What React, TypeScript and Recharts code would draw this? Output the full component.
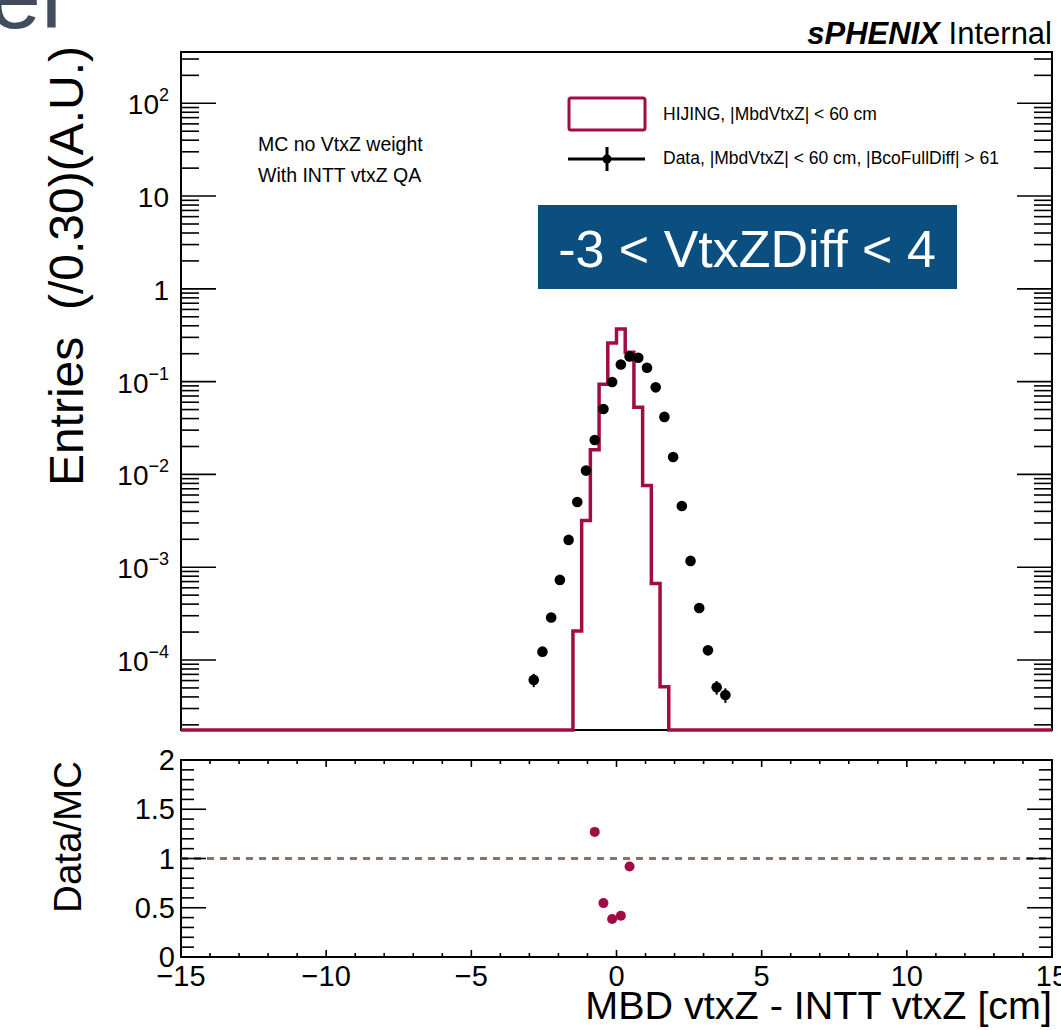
import React from 'react';
import { ComposedChart, Line, Scatter, XAxis, YAxis, ReferenceArea, ReferenceLine, ErrorBar } from 'recharts';

const FONT = '"Liberation Sans", Arial, Helvetica, sans-serif';
const MC_COLOR = '#a20c46';
const BOX_BLUE = '#0b4f80';
const RATIO_LINE_COLOR = '#8c7164';

// ---- axes ----
const X_MIN = -15;
const X_MAX = 15;
const X_TICKS = [-15, -14, -13, -12, -11, -10, -9, -8, -7, -6, -5, -4, -3, -2, -1, 0, 1, 2, 3, 4, 5, 6, 7, 8, 9, 10, 11, 12, 13, 14, 15];
const X_MAJOR_TICKS = [-15, -10, -5, 0, 5, 10, 15];
const X_TICK_LABELS = ['\u221215', '\u221210', '\u22125', '0', '5', '10', '15'];
const Y_MIN = 1.76e-5;
const Y_MAX = 357;
const Y_DECADES = [-5, -4, -3, -2, -1, 0, 1, 2];
const Y_MAJOR_EXPONENTS = [-4, -3, -2, -1, 0, 1, 2];
const RATIO_MIN = 0;
const RATIO_MAX = 2;
const RATIO_MAJOR_TICKS = [0, 0.5, 1, 1.5, 2];
const RATIO_TICK_LABELS = ['0', '0.5', '1', '1.5', '2'];

// ---- MC histogram (HIJING), bin width 0.30 ----
const MC_BIN_LOW_EDGES = [-1.5, -1.2, -0.9, -0.6, -0.3, 0.0, 0.3, 0.6, 0.9, 1.2, 1.5];
const MC_VALUES = [2.05e-4, 3.18e-3, 1.85e-2, 9.4e-2, 2.61e-1, 3.7e-1, 2.07e-1, 5.28e-2, 7.6e-3, 6.66e-4, 5.15e-5];
const MC_LAST_EDGE = 1.8;

// ---- Data points ----
const DATA_CENTERS = [-2.85, -2.55, -2.25, -1.95, -1.65, -1.35, -1.05, -0.75, -0.45, -0.15, 0.15, 0.45, 0.75, 1.05, 1.35, 1.65, 1.95, 2.25, 2.55, 2.85, 3.15, 3.45, 3.75];
const DATA_VALUES = [6.1e-5, 1.23e-4, 2.87e-4, 7.3e-4, 1.97e-3, 5.05e-3, 1.1e-2, 2.35e-2, 5.08e-2, 9.9e-2, 1.53e-1, 1.87e-1, 1.81e-1, 1.41e-1, 8.68e-2, 4.17e-2, 1.54e-2, 4.56e-3, 1.17e-3, 3.64e-4, 1.27e-4, 5.08e-5, 4.2e-5];
const DATA_ERRORS = [1.0e-5, 1.4e-5, 2.1e-5, 3.4e-5, 5.6e-5, 9e-5, 1.3e-4, 1.9e-4, 2.7e-4, 3.8e-4, 4.7e-4, 5.2e-4, 5.1e-4, 4.5e-4, 3.5e-4, 2.4e-4, 1.5e-4, 8e-5, 4.1e-5, 2.3e-5, 1.35e-5, 8.5e-6, 7.5e-6];

// ---- Ratio Data/MC ----
const RATIO_CENTERS = [-0.75, -0.45, -0.15, 0.15, 0.45];
const RATIO_VALUES = [1.27, 0.547, 0.385, 0.419, 0.919];

// ---- derived tables ----
const mcStepData = [
  { x: X_MIN, mc: Y_MIN },
  ...MC_BIN_LOW_EDGES.map((e, i) => ({ x: e, mc: MC_VALUES[i] })),
  { x: MC_LAST_EDGE, mc: Y_MIN },
  { x: X_MAX, mc: Y_MIN },
];
const dataPoints = DATA_CENTERS.map((c, i) => ({ x: c, y: DATA_VALUES[i], err: DATA_ERRORS[i] }));
const ratioPoints = RATIO_CENTERS.map((c, i) => ({ x: c, r: RATIO_VALUES[i] }));

const Y_TICKS: number[] = [];
Y_DECADES.forEach((d) => {
  for (let k = 1; k <= 9; k++) {
    const v = k * Math.pow(10, d);
    if (v >= Y_MIN && v <= Y_MAX) Y_TICKS.push(v);
  }
});
const RATIO_TICKS: number[] = [];
for (let i = 0; i <= 20; i++) RATIO_TICKS.push(Math.round(i * 10) / 100);

// ---- geometry ----
const W = 1061;
const LEFT = 181;
const RIGHT_MARGIN = 9;
const PLOT_W = W - LEFT - RIGHT_MARGIN; // 871
const TOP_H = 740;
const TOP_MARGIN = 52;
const TOP_PLOT_H = 678;
const RATIO_SVG_TOP = 740;
const RATIO_H = 290;
const RATIO_MARGIN_TOP = 20;
const RATIO_PLOT_H = 197;

const TICK_W = 1.6;

function TopYTick(props: any) {
  const { x, y, payload } = props;
  const v = payload.value as number;
  const e = Math.round(Math.log10(v));
  const major = Math.abs(v / Math.pow(10, e) - 1) < 1e-6 && Y_MAJOR_EXPONENTS.includes(e);
  const len = major ? 35 : 18;
  let label: React.ReactNode = null;
  if (major) {
    if (e === 0 || e === 1) {
      label = (
        <text x={x - 12} y={y + 11} textAnchor="end" fontSize={28} fontFamily={FONT} fill="#000">
          {e === 0 ? '1' : '10'}
        </text>
      );
    } else {
      label = (
        <text x={x - 12} y={y + 11} textAnchor="end" fontSize={28} fontFamily={FONT} fill="#000">
          <tspan>10</tspan>
          <tspan dy={-13} fontSize={18}>{e < 0 ? '\u2212' + String(-e) : String(e)}</tspan>
        </text>
      );
    }
  }
  return (
    <g>
      <line x1={x} x2={x + len} y1={y} y2={y} stroke="#000" strokeWidth={TICK_W} />
      <line x1={x + PLOT_W} x2={x + PLOT_W - len} y1={y} y2={y} stroke="#000" strokeWidth={TICK_W} />
      {label}
    </g>
  );
}

function TopXTick(props: any) {
  const { x, y, payload } = props;
  const v = payload.value as number;
  const major = X_MAJOR_TICKS.includes(v);
  const len = major ? 15 : 7;
  return (
    <g>
      <line x1={x} x2={x} y1={y} y2={y - len} stroke="#000" strokeWidth={TICK_W} />
      <line x1={x} x2={x} y1={y - TOP_PLOT_H} y2={y - TOP_PLOT_H + len} stroke="#000" strokeWidth={TICK_W} />
    </g>
  );
}

function RatioYTick(props: any) {
  const { x, y, payload } = props;
  const v = payload.value as number;
  const idx = RATIO_MAJOR_TICKS.findIndex((t) => Math.abs(t - v) < 1e-6);
  const major = idx >= 0;
  const len = major ? 25 : 13;
  return (
    <g>
      <line x1={x} x2={x + len} y1={y} y2={y} stroke="#000" strokeWidth={TICK_W} />
      <line x1={x + PLOT_W} x2={x + PLOT_W - len} y1={y} y2={y} stroke="#000" strokeWidth={TICK_W} />
      {major && (
        <text x={x - 6} y={y + 10} textAnchor="end" fontSize={29} fontFamily={FONT} fill="#000">
          {RATIO_TICK_LABELS[idx]}
        </text>
      )}
    </g>
  );
}

function RatioXTick(props: any) {
  const { x, y, payload } = props;
  const v = payload.value as number;
  const idx = X_MAJOR_TICKS.indexOf(v);
  const major = idx >= 0;
  const len = major ? 7 : 4;
  return (
    <g>
      <line x1={x} x2={x} y1={y} y2={y - len} stroke="#000" strokeWidth={TICK_W} />
      <line x1={x} x2={x} y1={y - RATIO_PLOT_H} y2={y - RATIO_PLOT_H + len} stroke="#000" strokeWidth={TICK_W} />
      {major && (
        <text x={x} y={y + 29} textAnchor="middle" fontSize={29} fontFamily={FONT} fill="#000">
          {X_TICK_LABELS[idx]}
        </text>
      )}
    </g>
  );
}

const DataDot = (p: any) => <circle cx={p.cx} cy={p.cy} r={5.3} fill="#000" />;
const RatioDot = (p: any) => <circle cx={p.cx} cy={p.cy} r={5} fill={MC_COLOR} />;

export default function App() {
  return (
    <div style={{ position: 'absolute', left: 0, top: 0, width: W, height: 1030, overflow: 'hidden', background: '#fff' }}>
      <div style={{ position: 'absolute', left: 0, top: 0 }}>
        <ComposedChart width={W} height={TOP_H} data={mcStepData} margin={{ top: TOP_MARGIN, right: RIGHT_MARGIN, bottom: TOP_H - TOP_MARGIN - TOP_PLOT_H, left: 0 }}>
          <XAxis type="number" dataKey="x" domain={[X_MIN, X_MAX]} ticks={X_TICKS} interval={0} tick={TopXTick} tickLine={false} axisLine={false} tickSize={0} tickMargin={0} height={0} />
          <YAxis type="number" scale="log" domain={[Y_MIN, Y_MAX]} ticks={Y_TICKS} interval={0} tick={TopYTick} tickLine={false} axisLine={false} tickSize={0} tickMargin={0} width={LEFT} />
          <ReferenceArea x1={X_MIN} x2={X_MAX} y1={Y_MIN} y2={Y_MAX} fill="none" fillOpacity={0} stroke="#000" strokeWidth={2} />
          <Line type="stepAfter" dataKey="mc" stroke={MC_COLOR} strokeWidth={3.5} dot={false} activeDot={false} isAnimationActive={false} strokeLinejoin="miter" />
          <Scatter data={dataPoints} dataKey="y" fill="#000" shape={DataDot} isAnimationActive={false}>
            <ErrorBar dataKey="err" direction="y" width={0} stroke="#000" strokeWidth={2} />
          </Scatter>
        </ComposedChart>
      </div>
      <div style={{ position: 'absolute', left: 0, top: RATIO_SVG_TOP }}>
        <ComposedChart width={W} height={RATIO_H} margin={{ top: RATIO_MARGIN_TOP, right: RIGHT_MARGIN, bottom: 0, left: 0 }}>
          <XAxis type="number" dataKey="x" domain={[X_MIN, X_MAX]} ticks={X_TICKS} interval={0} tick={RatioXTick} tickLine={false} axisLine={false} tickSize={0} tickMargin={0} height={RATIO_H - RATIO_MARGIN_TOP - RATIO_PLOT_H} />
          <YAxis type="number" domain={[RATIO_MIN, RATIO_MAX]} ticks={RATIO_TICKS} interval={0} tick={RatioYTick} tickLine={false} axisLine={false} tickSize={0} tickMargin={0} width={LEFT} />
          <ReferenceArea x1={X_MIN} x2={X_MAX} y1={RATIO_MIN} y2={RATIO_MAX} fill="none" fillOpacity={0} stroke="#000" strokeWidth={2} />
          <ReferenceLine y={1} stroke={RATIO_LINE_COLOR} strokeWidth={3} strokeDasharray="7 6" />
          <Scatter data={ratioPoints} dataKey="r" fill={MC_COLOR} shape={RatioDot} isAnimationActive={false} />
        </ComposedChart>
      </div>
      <svg width={W} height={1030} style={{ position: 'absolute', left: 0, top: 0, pointerEvents: 'none' }}>
        <text x={62} y={28} textAnchor="end" fontSize={94} fontFamily={FONT} fill="#414c5c">el</text>
        <text x={1052} y={44} textAnchor="end" fontSize={31} fontFamily={FONT} fill="#000">
          <tspan fontWeight="bold" fontStyle="italic">sPHENIX</tspan>
          <tspan> Internal</tspan>
        </text>
        <text transform="translate(83,46) rotate(-90)" textAnchor="end" fontSize={48} fontFamily={FONT} fill="#000" style={{ whiteSpace: 'pre' }}>
          {'Entries  (/0.30)(A.U.)'}
        </text>
        <text transform="translate(81,761) rotate(-90)" textAnchor="end" fontSize={38.5} fontFamily={FONT} fill="#000">Data/MC</text>
        <text x={1052} y={1019} textAnchor="end" fontSize={39.5} fontFamily={FONT} fill="#000">MBD vtxZ - INTT vtxZ [cm]</text>
        <text x={258} y={151} fontSize={19.5} fontFamily={FONT} fill="#000">MC no VtxZ weight</text>
        <text x={258} y={182} fontSize={19.5} fontFamily={FONT} fill="#000">With INTT vtxZ QA</text>
        <rect x={569} y={98} width={76} height={32} fill="none" stroke={MC_COLOR} strokeWidth={3} rx={2} />
        <text x={663} y={120} fontSize={17.5} fontFamily={FONT} fill="#000">HIJING, |MbdVtxZ| &lt; 60 cm</text>
        <line x1={568} x2={645} y1={159} y2={159} stroke="#000" strokeWidth={3} />
        <line x1={607} x2={607} y1={147} y2={171} stroke="#000" strokeWidth={3} />
        <circle cx={607} cy={159} r={4.5} fill="#000" />
        <text x={663} y={164} fontSize={17.5} fontFamily={FONT} fill="#000">Data, |MbdVtxZ| &lt; 60 cm, |BcoFullDiff| &gt; 61</text>
        <rect x={538} y={205} width={419} height={84} fill={BOX_BLUE} />
        <text x={747} y={267} textAnchor="middle" fontSize={52} fontFamily={FONT} fill="#fff">-3 &lt; VtxZDiff &lt; 4</text>
      </svg>
    </div>
  );
}
